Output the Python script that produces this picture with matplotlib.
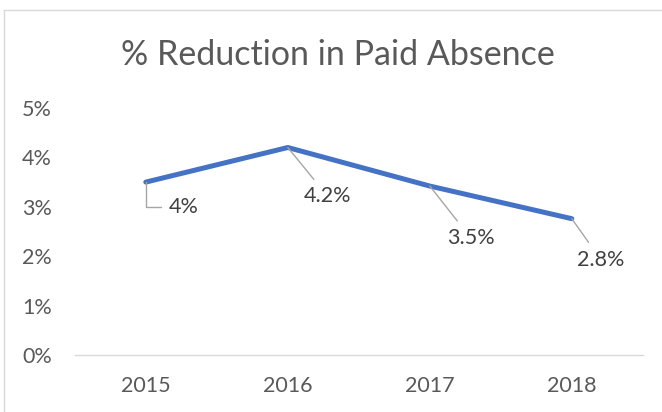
import matplotlib
matplotlib.use('Agg')
import matplotlib.pyplot as plt
from matplotlib.lines import Line2D

years = ['2015', '2016', '2017', '2018']
values = [3.5, 4.2, 3.42, 2.76]
labels = ['4%', '4.2%', '3.5%', '2.8%']
yticks = [0, 1, 2, 3, 4, 5]

plt.rcParams['font.family'] = ['Lato', 'DejaVu Sans']
txt = '#595959'

fig = plt.figure(figsize=(6.62, 4.12), dpi=100)
ax = fig.add_axes([0.113, 0.138, 0.858, 0.600])

x = range(len(years))
ax.plot(x, values, color='#4472C4', lw=3.6, solid_capstyle='round', solid_joinstyle='round', zorder=3)

# label offsets in pixels (dx, dy)
offs = [(38, -25), (40, -49), (41, -52), (29, -41)]
for i, (v, lab) in enumerate(zip(values, labels)):
    dx, dy = offs[i]
    if i == 0:
        cs = 'angle,angleA=0,angleB=90,rad=0'
    else:
        cs = 'arc3'
    ax.annotate(lab, xy=(i, v), xytext=(dx, dy), textcoords='offset pixels',
                ha='center', va='center', fontsize=15.5, color='#404040',
                arrowprops=dict(arrowstyle='-', color='#A6A6A6', lw=1.0,
                                connectionstyle=cs, shrinkA=4, shrinkB=0))

ax.set_xlim(-0.5, len(years) - 0.5)
ax.set_ylim(0, 5)
ax.set_xticks(list(x))
ax.set_xticklabels(years)
ax.set_yticks(yticks)
ax.set_yticklabels([f'{t}%' for t in yticks])
ax.tick_params(axis='both', length=0, labelsize=15.5, colors=txt)
ax.tick_params(axis='y', pad=16.5)
ax.tick_params(axis='x', pad=15)
for s in ['top', 'right', 'left']:
    ax.spines[s].set_visible(False)
ax.spines['bottom'].set_color('#D9D9D9')
ax.spines['bottom'].set_linewidth(1.0)

fig.text(0.51, 0.867, '% Reduction in Paid Absence', ha='center', va='center',
         fontsize=24.5, color=txt)

# chart border (top and left visible)
fig.add_artist(Line2D([4 / 662, 4 / 662], [0, 1 - 10 / 412], transform=fig.transFigure, color='#D9D9D9', lw=1))
fig.add_artist(Line2D([4 / 662, 1], [1 - 10 / 412, 1 - 10 / 412], transform=fig.transFigure, color='#D9D9D9', lw=1))

fig.savefig('out.png', dpi=100)
